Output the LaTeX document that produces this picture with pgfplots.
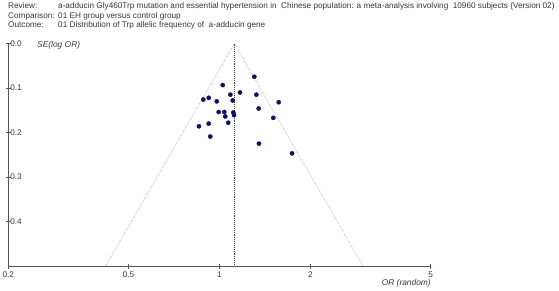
\documentclass[border=0pt]{standalone}
\usepackage{pgfplots}
\pgfplotsset{compat=1.18}
\usepackage{fontspec}
\setmainfont{Liberation Sans}
\definecolor{txt}{HTML}{383838}
\definecolor{axl}{HTML}{555555}
\definecolor{dotc}{HTML}{10105E}
\begin{document}
\begin{tikzpicture}
\useasboundingbox (0pt,0pt) rectangle (559pt,291pt);
\fill[white] (0pt,0pt) rectangle (559pt,291pt);
% header
\begin{scope}[every node/.style={anchor=base west, inner sep=0pt, font=\fontsize{8.2}{9}\selectfont, text=txt}]
\node at (8pt,282pt) {Review:};
\node at (58pt,282pt) {a-adducin Gly460Trp mutation and essential hypertension in\ \ Chinese population: a meta-analysis involving\ \ 10960 subjects (Version 02)};
\node at (8pt,272.7pt) {Comparison:};
\node at (58pt,272.7pt) {01 EH group versus control group};
\node at (8pt,263.5pt) {Outcome:};
\node at (58pt,263.5pt) {01 Distribution of Trp allelic frequency of\ \ a-adducin gene};
\end{scope}
\node[anchor=west, inner sep=0pt, font=\fontsize{8.4}{9}\selectfont\itshape, text=txt] at (37pt,246pt) {SE(log OR)};
\node[anchor=base east, inner sep=0pt, font=\fontsize{8.4}{9}\selectfont\itshape, text=txt] at (431pt,5.5pt) {OR (random)};
\begin{axis}[
  at={(8.3pt,25pt)}, anchor=south west,
  width=422.4pt, height=222.5pt, scale only axis,
  xmode=log, xmin=0.2, xmax=5,
  ymin=0, ymax=0.5, y dir=reverse,
  axis line style={draw=none},
  xtick={0.2,0.5,1,2,5},
  xticklabels={0.2,0.5,1,2,5},
  ytick={0,0.1,0.2,0.3,0.4},
  yticklabels={0.0,0.1,0.2,0.3,0.4},
  minor tick num=0,
  tick align=center,
  major tick length=5pt,
  tick style={axl, line width=0.8pt},
  xtick pos=left, ytick pos=left,
  /pgf/number format/assume math mode=true,
  ticklabel style={font=\fontsize{8.2}{9}\selectfont, text=txt},
  yticklabel style={anchor=west, xshift=1pt},
  xticklabel style={yshift=0pt},
  clip=false,
]
\addplot[gray!75, densely dotted, line width=0.55pt] coordinates {(0.42,0.5) (1.12,0) (2.984,0.5)};
\addplot[black!75, densely dotted, line width=0.9pt] coordinates {(1.12,0) (1.12,0.5)};
\draw[axl, line width=0.9pt] (axis cs:0.2,0.5) -- (axis cs:5,0.5);
\draw[axl, line width=0.9pt] (axis cs:0.2,0.5) -- (axis cs:0.2,0);
\addplot[only marks, mark=*, mark size=2.1pt, mark options={fill=dotc, draw=dotc}] coordinates {
(1.304,0.0747) (1.025,0.0935) (1.169,0.110) (1.086,0.115) (1.324,0.115)
(0.884,0.126) (0.921,0.122) (0.979,0.130) (1.106,0.128) (1.570,0.132)
(1.348,0.146) (0.994,0.154) (1.037,0.154) (1.111,0.155) (1.117,0.161)
(1.045,0.164) (1.507,0.167) (0.921,0.180) (1.069,0.178) (0.855,0.186)
(0.932,0.209) (1.351,0.225) (1.738,0.247)
};
\end{axis}
\end{tikzpicture}
\end{document}
